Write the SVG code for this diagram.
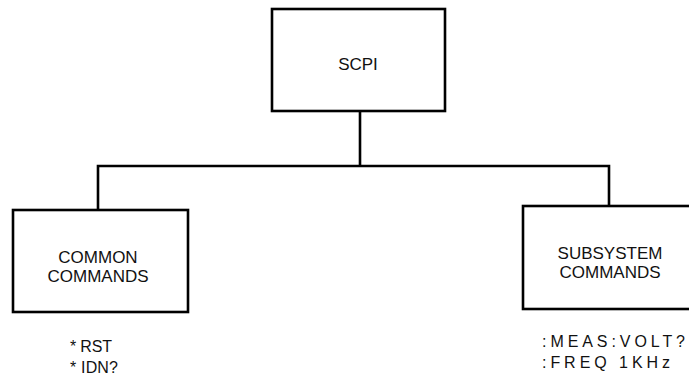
<svg xmlns="http://www.w3.org/2000/svg" width="689" height="383" viewBox="0 0 689 383">
  <style>
    .box { fill: #fff; stroke: #000; stroke-width: 2.6; }
    .wire { fill: none; stroke: #000; stroke-width: 2.6; stroke-linecap: square; }
    .lbl { font-family: "Liberation Sans", Arial, sans-serif; font-size: 17px; fill: #111; text-anchor: middle; }
    .cmd { font-family: "Liberation Sans", Arial, sans-serif; font-size: 16px; fill: #111; }
  </style>
  <rect width="689" height="383" fill="#fff"/>

  <!-- tree connectors -->
  <g id="connectors">
    <path class="wire" d="M360,111 V165"/>
    <path class="wire" d="M98,210 V166 H609 V206"/>
  </g>

  <!-- root -->
  <g id="scpi">
    <rect class="box" x="272" y="9" width="173" height="102"/>
    <text class="lbl" x="358" y="70">SCPI</text>
  </g>

  <!-- left branch -->
  <g id="common-commands">
    <rect class="box" x="13" y="210" width="175" height="102"/>
    <text class="lbl" x="98" y="263">COMMON</text>
    <text class="lbl" x="98" y="282">COMMANDS</text>
    <text class="cmd" x="70" y="352" textLength="42" lengthAdjust="spacing">* RST</text>
    <text class="cmd" x="70" y="373" textLength="48" lengthAdjust="spacing">* IDN?</text>
  </g>

  <!-- right branch -->
  <g id="subsystem-commands">
    <rect class="box" x="523" y="206" width="175" height="103"/>
    <text class="lbl" x="610" y="259">SUBSYSTEM</text>
    <text class="lbl" x="610" y="278">COMMANDS</text>
    <text class="cmd" x="542" y="347" textLength="143" lengthAdjust="spacing">:MEAS:VOLT?</text>
    <text class="cmd" x="542" y="368" textLength="128" lengthAdjust="spacing">:FREQ  1KHz</text>
  </g>
</svg>
